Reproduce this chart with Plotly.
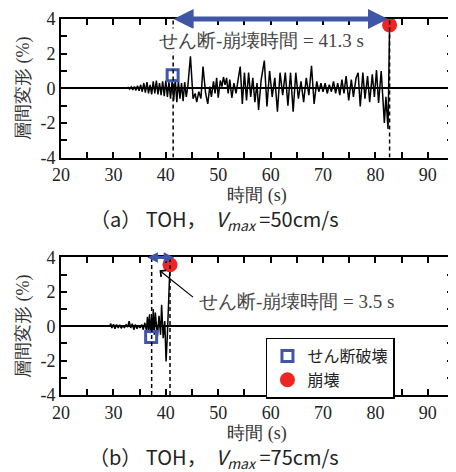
import plotly.graph_objects as go

# ---------------- data ----------------
# (a) TOH, Vmax = 50 cm/s
t_a = [20, 32.5, 32.8, 33.1, 33.4, 33.7, 34.0, 34.3, 34.6, 34.9, 35.2, 35.5, 35.8, 36.1, 36.4,
       36.7, 37.0, 37.3, 37.6, 37.9, 38.2, 38.5, 38.8, 39.1, 39.4, 39.7, 40.0, 40.3, 40.6, 40.9,
       41.2, 41.5, 41.8, 42.1, 42.4, 42.7, 43.0, 43.3, 43.6, 43.9, 44.2, 44.7, 45.2, 45.6, 45.9,
       46.3, 46.7, 47.1, 47.6, 48.0, 48.4, 48.7, 49.1, 49.4, 49.7, 50.0, 50.4, 50.7, 51.0, 51.3,
       51.6, 51.9, 52.2, 52.6, 53.0, 53.4, 53.8, 54.2, 54.6, 55.0, 55.4, 55.8, 56.2, 56.6, 57.0,
       57.4, 57.7, 58.2, 58.8, 59.3, 59.8, 60.3, 60.8, 61.3, 61.8, 62.3, 62.8, 63.3, 63.8, 64.3,
       64.8, 65.3, 65.8, 66.3, 66.8, 67.3, 67.8, 68.3, 68.8, 69.2, 69.6, 70.0, 70.4, 70.8, 71.2,
       71.6, 72.0, 72.4, 72.8, 73.2, 73.6, 74.0, 74.4, 74.9, 75.4, 75.8, 76.3, 76.7, 77.1, 77.6,
       78.0, 78.5, 78.9, 79.4, 79.8, 80.2, 80.6, 81.1, 81.4, 81.7, 82.0, 82.4, 82.7]
d_a = [0, 0, 0.05, -0.05, 0.08, -0.1, 0.1, -0.12, 0.15, -0.15, 0.2, -0.2, 0.3, -0.25, 0.35,
       -0.3, 0.2, -0.35, 0.4, -0.3, 0.45, -0.35, 0.3, -0.4, 0.4, -0.45, 0.45, -0.5, 0.35, -0.6,
       0.4, -0.7, 0.5, -0.8, 0.4, -0.6, 0.3, -0.75, 0.35, -0.5, 0.1, 1.85, -0.6, -0.3, -0.8,
       -0.2, -0.6, 1.25, -0.3, -0.9, 0.1, -0.5, 0.4, -0.3, 0.6, -0.55, 0.45, 0.1, 0.65, 0.2,
       0.6, -0.3, 0.5, -0.55, 0.3, -0.3, 0.5, 1.25, -0.9, 0.9, -0.7, 0.9, -0.5, 0.6, -0.8,
       0.3, -1.25, 0.5, 1.6, -1.05, 1.0, -0.5, 0.6, -1.35, 0.9, -0.4, 0.9, -1.0, 0.9, -1.35,
       0.9, -0.6, 0.4, -0.8, 0.6, -0.4, 1.3, -0.9, 0.4, -0.2, 0.3, -0.2, 0.3, -0.3, 0.2,
       -0.2, 0.4, -0.3, 0.3, -0.4, 0.5, -0.3, 0.7, -0.7, 0.5, -0.5, 0.6, 0.9, -1.05, 0.9,
       -0.6, 0.7, -0.8, 0.8, -0.5, 1.05, -0.85, 1.0, -0.5, -2.0, -0.5, -2.35, 3.65]

# (b) TOH, Vmax = 75 cm/s
t_b = [20, 29.3, 29.5, 29.7, 30.0, 30.3, 30.6, 30.9, 31.2, 31.5, 31.8, 32.1, 32.4, 32.7, 33.0,
       33.3, 33.6, 33.9, 34.2, 34.5, 34.8, 35.1, 35.4, 35.7, 36.0, 36.3, 36.5, 36.7, 36.9, 37.1,
       37.3, 37.5, 37.6, 37.8, 38.0, 38.2, 38.4, 38.7, 39.0, 39.2, 39.5, 39.8, 40.05, 40.3, 40.8]
d_b = [0, 0, 0.15, -0.1, 0.12, -0.15, 0.1, -0.1, 0.08, -0.12, 0.05, -0.1, 0.1, -0.05, 0.3,
       -0.1, 0.15, -0.2, 0.1, -0.15, 0.05, -0.1, 0.1, -0.2, 0.2, -0.25, 0.55, -0.3, 0.7, -0.4,
       0.5, -0.3, 1.0, -0.5, 0.8, -0.2, -0.6, 0.6, -0.5, 1.25, -0.7, 0.3, -2.05, -0.5, 3.6]

# failure events: (time, drift)
shear_a = (41.3, 0.75)
collapse_a = (82.7, 3.65)
shear_b = (37.2, -0.63)
collapse_b = (40.8, 3.58)

x_tickvals = [20, 25, 30, 35, 40, 45, 50, 55, 60, 65, 70, 75, 80, 85, 90, 95]
x_ticktext = ['20', '', '30', '', '40', '', '50', '', '60', '', '70', '', '80', '', '90', '']
y_tickvals = [-4, -3, -2, -1, 0, 1, 2, 3, 4]
y_ticktext = ['-4', '', '-2', '', '0', '', '2', '', '4']

label_a = 'せん断-崩壊時間 = 41.3 s'
label_b = 'せん断-崩壊時間 = 3.5 s'
cap_a = '（a） TOH，  <i>V</i><sub><i>max</i></sub> =50cm/s'
cap_b = '（b） TOH，  <i>V</i><sub><i>max</i></sub> =75cm/s'

# ---------------- style ----------------
SERIF = 'Liberation Serif'
CJK = 'Noto Sans CJK JP'
BLUE = '#3F56A8'
RED = '#EE2525'

fig = go.Figure()

fig.add_trace(go.Scatter(x=t_a, y=d_a, mode='lines', line=dict(color='black', width=1.5),
                         showlegend=False, xaxis='x', yaxis='y'))
fig.add_trace(go.Scatter(x=t_b, y=d_b, mode='lines', line=dict(color='black', width=1.5),
                         showlegend=False, xaxis='x2', yaxis='y2'))

# markers
fig.add_trace(go.Scatter(x=[shear_a[0]], y=[shear_a[1]], mode='markers',
                         marker=dict(symbol='square-open', size=11, color=BLUE, line=dict(width=3, color=BLUE)),
                         showlegend=False, xaxis='x', yaxis='y'))
fig.add_trace(go.Scatter(x=[collapse_a[0]], y=[collapse_a[1]], mode='markers',
                         marker=dict(symbol='circle', size=15, color=RED),
                         showlegend=False, xaxis='x', yaxis='y'))
fig.add_trace(go.Scatter(x=[shear_b[0]], y=[shear_b[1]], mode='markers', name='せん断破壊',
                         marker=dict(symbol='square-open', size=11, color=BLUE, line=dict(width=3, color=BLUE)),
                         xaxis='x2', yaxis='y2'))
fig.add_trace(go.Scatter(x=[collapse_b[0]], y=[collapse_b[1]], mode='markers', name='崩壊',
                         marker=dict(symbol='circle', size=15, color=RED),
                         xaxis='x2', yaxis='y2'))

axis_common = dict(showline=True, linecolor='black', linewidth=2, mirror='ticks',
                   ticks='inside', ticklen=6, tickwidth=1.5, tickcolor='black',
                   showgrid=False, tickfont=dict(family=SERIF, size=18, color='#222'))

xa = dict(axis_common, range=[20, 94.8], tickmode='array', tickvals=x_tickvals, ticktext=x_ticktext,
          zeroline=False, title=dict(text='時間 (s)', font=dict(family=SERIF, size=18, color='#333'), standoff=2))
ya = dict(axis_common, range=[-4, 4], tickmode='array', tickvals=y_tickvals, ticktext=y_ticktext,
          zeroline=True, zerolinecolor='black', zerolinewidth=1.5,
          title=dict(text='層間変形 (%)', font=dict(family=SERIF, size=18, color='#333'), standoff=6))

# page body has an 8px margin: figure is shifted by 8px, so it is sized to fit
OFF = 8
W, H = 456 - OFF, 472 - OFF
fig.update_layout(
    width=W, height=H,
    margin=dict(l=61 - OFF, r=1, t=15 - OFF, b=77, pad=0),
    paper_bgcolor='white', plot_bgcolor='white',
    xaxis=dict(xa, domain=[0, 1], anchor='y'),
    yaxis=dict(ya, domain=[0.6316, 1], anchor='x'),
    xaxis2=dict(xa, domain=[0, 1], anchor='y2'),
    yaxis2=dict(ya, domain=[0, 0.3658], anchor='x2'),
    showlegend=True,
    legend=dict(x=(267 - 61) / 394, y=1 - (337 - 15) / 380, xanchor='left', yanchor='top',
                bordercolor='black', borderwidth=1.5, bgcolor='white',
                font=dict(family=CJK, size=16, color='#222'),
                itemwidth=30, tracegroupgap=0),
)

# dashed vertical lines
for xr, yr, tt in [('x', 'y', shear_a[0] + 0.1), ('x', 'y', collapse_a[0]),
                   ('x2', 'y2', shear_b[0] + 0.1), ('x2', 'y2', collapse_b[0])]:
    fig.add_shape(type='line', xref=xr, yref=yr, x0=tt, x1=tt, y0=-4, y1=4,
                  line=dict(color='black', width=1.5, dash='4px,3px'), layer='above')

# blue double arrows
fig.add_annotation(xref='x', yref='y', axref='x', ayref='y', x=collapse_a[0] - 0.3, y=4.0,
                   ax=shear_a[0] - 0.1, ay=4.0, text='', showarrow=True, arrowhead=2,
                   arrowside='end+start', arrowwidth=5, arrowsize=0.8, arrowcolor=BLUE)
fig.add_annotation(xref='x2', yref='y2', axref='x2', ayref='y2', x=41.6, y=4.0,
                   ax=36.2, ay=4.0, text='', showarrow=True, arrowhead=2,
                   arrowside='end+start', arrowwidth=3, arrowsize=0.7, arrowcolor=BLUE)

# labels
fig.add_annotation(xref='x', yref='y', x=58.3, y=2.74, text=label_a, showarrow=False,
                   font=dict(family=SERIF, size=19, color='#444'), bgcolor='white')
fig.add_annotation(xref='x2', yref='y2', x=65.0, y=1.45, text=label_b, showarrow=False,
                   font=dict(family=SERIF, size=19, color='#444'))
fig.add_annotation(xref='x2', yref='y2', x=38.8, y=3.25, text='', showarrow=True,
                   arrowhead=4, arrowsize=1.3, arrowwidth=1.2, arrowcolor='black',
                   ax=35, ay=28)

# captions
fig.add_annotation(xref='paper', yref='paper', x=(215 - 61) / 394, y=1 - (218 - 15) / 380,
                   xanchor='center', yanchor='middle', text=cap_a, showarrow=False,
                   font=dict(family=CJK, size=20, color='#222'))
fig.add_annotation(xref='paper', yref='paper', x=(215 - 61) / 394, y=1 - (458 - 15) / 380,
                   xanchor='center', yanchor='middle', text=cap_b, showarrow=False,
                   font=dict(family=CJK, size=20, color='#222'))

fig.write_html('out.html')
